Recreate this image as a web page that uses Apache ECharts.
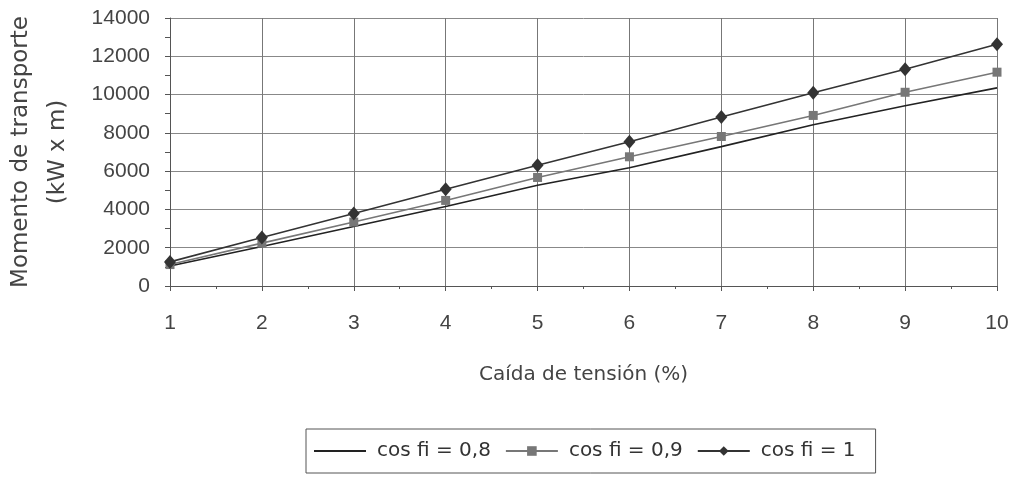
<!DOCTYPE html>
<html>
<head>
<meta charset="utf-8">
<script src="https://cdn.jsdelivr.net/npm/echarts@6/dist/echarts.min.js"></script>
<style>
html,body{margin:0;padding:0;background:#fff;}
#chart{width:1018px;height:482px;}
</style>
</head>
<body>
<div id="chart"></div>
<script>
// Data
const caida = [1, 2, 3, 4, 5, 6, 7, 8, 9, 10];
const cos08 = [1040, 2060, 3110, 4150, 5260, 6180, 7280, 8420, 9420, 10350];
const cos09 = [1120, 2240, 3340, 4470, 5670, 6750, 7810, 8910, 10120, 11170];
const cos10 = [1260, 2530, 3790, 5050, 6310, 7540, 8830, 10090, 11320, 12630];
const seriesNames = ['cos fi = 0,8', 'cos fi = 0,9', 'cos fi = 1'];
const xName = 'Caída de tensión (%)';
const yName = 'Momento de transporte\n(kW x m)';

const pairs = arr => caida.map((x, i) => [x, arr[i]]);

const chart = echarts.init(document.getElementById('chart'), null, {renderer: 'canvas'});
const tickFont = {fontFamily: 'Liberation Sans', fontSize: 21, color: '#444'};
chart.setOption({
  animation: false,
  backgroundColor: '#fff',
  grid: {left: 170, right: 21, top: 18, bottom: 196, containLabel: false, outerBoundsMode: 'none'},
  legend: {
    left: 306, top: 429,
    padding: [12, 20, 12, 7],
    borderColor: '#555', borderWidth: 1,
    itemWidth: 52, itemHeight: 12, itemGap: 14,
    textStyle: {fontFamily: 'DejaVu Sans', fontSize: 20, color: '#333', padding: [0, 0, 0, 6]},
    data: [
      {name: seriesNames[0], itemStyle: {opacity: 0}},
      {name: seriesNames[1]},
      {name: seriesNames[2]}
    ]
  },
  xAxis: {
    type: 'value', min: 1, max: 10, interval: 1,
    name: xName, nameLocation: 'middle', nameGap: 79,
    nameTextStyle: {fontFamily: 'DejaVu Sans', fontSize: 20, color: '#444'},
    axisLine: {show: true, lineStyle: {color: '#555', width: 1}},
    axisTick: {show: true, length: 5, lineStyle: {color: '#555'}},
    minorTick: {show: true, splitNumber: 2, length: 3, lineStyle: {color: '#555'}},
    axisLabel: Object.assign({margin: 27}, tickFont),
    splitLine: {show: true, lineStyle: {color: '#777', width: 1}}
  },
  yAxis: {
    type: 'value', min: 0, max: 14000, interval: 2000,
    name: yName, nameLocation: 'middle', nameGap: 93, nameRotate: 90,
    nameTextStyle: {fontFamily: 'DejaVu Sans', fontSize: 23, lineHeight: 37, color: '#444', align: 'center'},
    axisLine: {show: true, lineStyle: {color: '#555', width: 1}},
    axisTick: {show: true, length: 5, lineStyle: {color: '#555'}},
    minorTick: {show: true, splitNumber: 2, length: 5, lineStyle: {color: '#555'}},
    axisLabel: Object.assign({margin: 20, formatter: v => String(v)}, tickFont),
    splitLine: {show: true, lineStyle: {color: '#888', width: 1}}
  },
  series: [
    {
      name: seriesNames[0], type: 'line', data: pairs(cos08),
      symbol: 'none',
      lineStyle: {color: '#222', width: 1.6},
      itemStyle: {color: '#222'}
    },
    {
      name: seriesNames[1], type: 'line', data: pairs(cos09),
      symbol: 'rect', symbolSize: 9,
      lineStyle: {color: '#777', width: 1.6},
      itemStyle: {color: '#777'}
    },
    {
      name: seriesNames[2], type: 'line', data: pairs(cos10),
      symbol: 'diamond', symbolSize: [12, 14],
      lineStyle: {color: '#333', width: 1.6},
      itemStyle: {color: '#333'}
    }
  ]
});
</script>
</body>
</html>
